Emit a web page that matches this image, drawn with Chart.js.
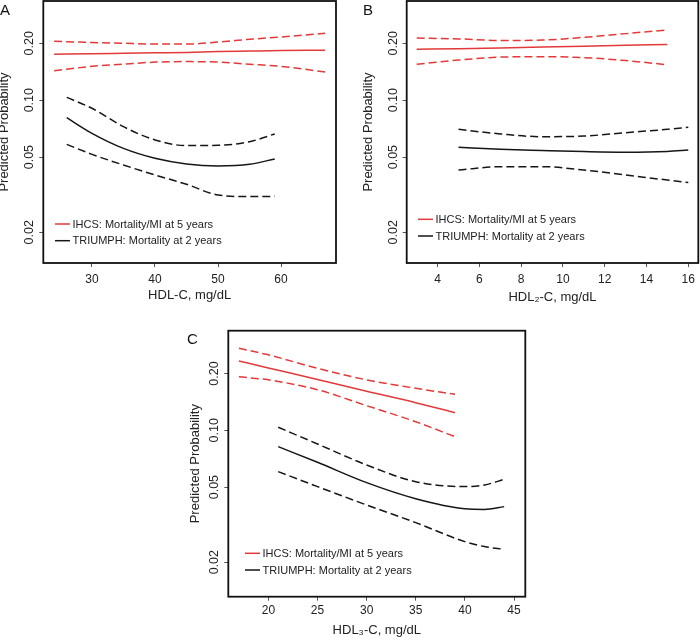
<!DOCTYPE html>
<html>
<head>
<meta charset="utf-8">
<script src="https://cdn.jsdelivr.net/npm/chart.js@4.4.1/dist/chart.umd.min.js"></script>
<style>
  body { margin: 0; background: #fff; }
  #wrap { position: relative; width: 700px; height: 638px; font-family: "Liberation Sans", Arial, sans-serif; }
  canvas { position: absolute; }
  .tag { position: absolute; font-size: 15px; line-height: 1; color: #111; }
</style>
</head>
<body>
<div id="wrap">
  <canvas id="chartA" width="350" height="320" style="left:0;top:0"></canvas>
  <canvas id="chartB" width="350" height="320" style="left:350px;top:0"></canvas>
  <canvas id="chartC" width="360" height="318" style="left:180px;top:320px"></canvas>
  <div class="tag" style="left:0px;top:2px">A</div>
  <div class="tag" style="left:363px;top:2px">B</div>
  <div class="tag" style="left:187px;top:331px">C</div>
</div>
<script>
// labels
const ihcsLabel = 'IHCS: Mortality/MI at 5 years';
const triumphLabel = 'TRIUMPH: Mortality at 2 years';
const yTitle = 'Predicted Probability';
const yTicks = [0.02, 0.05, 0.10, 0.20];

// Panel A - HDL-C
const xTicksA = [30, 40, 50, 60];
const ihcsXA = [24, 30, 35, 40, 45, 50, 55, 60, 67];
const ihcsFitA = [0.175, 0.176, 0.177, 0.178, 0.179, 0.181, 0.182, 0.183, 0.184];
const ihcsUpA = [0.205, 0.202, 0.200, 0.198, 0.198, 0.203, 0.210, 0.216, 0.226];
const ihcsLoA = [0.143, 0.151, 0.155, 0.159, 0.160, 0.159, 0.155, 0.151, 0.141];
const triumphXA = [26, 30, 35, 40, 45, 50, 55, 59];
const triumphFitA = [0.0808, 0.0668, 0.0556, 0.0493, 0.0460, 0.0449, 0.0458, 0.0489];
const triumphUpA = [0.1035, 0.0906, 0.0724, 0.0616, 0.0575, 0.0577, 0.0603, 0.0663];
const triumphLoA = [0.0584, 0.0517, 0.0454, 0.0402, 0.0359, 0.0315, 0.0309, 0.0310];

// Panel B - HDL2-C
const xTicksB = [4, 6, 8, 10, 12, 14, 16];
const ihcsXB = [3, 5, 7, 9, 11, 13, 15];
const ihcsFitB = [0.186, 0.187, 0.189, 0.191, 0.193, 0.195, 0.197];
const ihcsUpB = [0.213, 0.211, 0.207, 0.208, 0.215, 0.225, 0.235];
const ihcsLoB = [0.155, 0.163, 0.169, 0.170, 0.168, 0.162, 0.154];
const triumphXB = [5, 7, 9, 11, 13, 15, 16];
const triumphFitB = [0.0563, 0.0550, 0.0542, 0.0535, 0.0531, 0.0536, 0.0545];
const triumphUpB = [0.0701, 0.0663, 0.0641, 0.0646, 0.0673, 0.0701, 0.0719];
const triumphLoB = [0.0427, 0.0445, 0.0445, 0.0427, 0.0402, 0.0378, 0.0367];

// Panel C - HDL3-C
const xTicksC = [20, 25, 30, 35, 40, 45];
const ihcsXC = [17, 20, 25, 30, 35, 39];
const ihcsFitC = [0.233, 0.214, 0.186, 0.161, 0.140, 0.124];
const ihcsUpC = [0.272, 0.251, 0.213, 0.185, 0.167, 0.155];
const ihcsLoC = [0.192, 0.185, 0.164, 0.135, 0.111, 0.0925];
const triumphXC = [21, 25, 30, 35, 40, 42, 44];
const triumphFitC = [0.0819, 0.0677, 0.0528, 0.0434, 0.0384, 0.0381, 0.0394];
const triumphUpC = [0.1037, 0.0846, 0.0655, 0.0534, 0.0503, 0.0513, 0.0550];
const triumphLoC = [0.0604, 0.0503, 0.0402, 0.0324, 0.0257, 0.0242, 0.0234];

const RED = '#e23a3a';
const BLACK = '#161616';
const FONT = '"Liberation Sans", Arial, sans-serif';

function pts(xs, ys) {
  return xs.map((x, i) => ({ x: x, y: ys[i] }));
}

function line(label, xs, ys, color, dashed, inLegend) {
  return {
    label: label,
    data: pts(xs, ys),
    borderColor: color,
    borderWidth: 1.5,
    borderDash: dashed ? [8, 4] : [],
    pointRadius: 0,
    fill: false,
    cubicInterpolationMode: 'monotone',
    inLegend: inLegend
  };
}

// box round the plot, rotated y tick labels (like R) and the legend inside the plot
const panelDecor = {
  id: 'panelDecor',
  afterDraw(chart, args, opts) {
    const ctx = chart.ctx;
    const a = chart.chartArea;
    ctx.save();
    ctx.strokeStyle = '#111';
    ctx.lineWidth = 1.8;
    ctx.setLineDash([]);
    ctx.strokeRect(a.left, a.top, a.right - a.left, a.bottom - a.top);

    const ys = chart.scales.y;
    ctx.fillStyle = '#222';
    ctx.font = '12.5px ' + FONT;
    ctx.textAlign = 'center';
    ctx.textBaseline = 'middle';
    ys.ticks.forEach(t => {
      ctx.save();
      ctx.translate(a.left - opts.yLabelGap, ys.getPixelForValue(t.value));
      ctx.rotate(-Math.PI / 2);
      ctx.fillText(t.value.toFixed(2), 0, 0);
      ctx.restore();
    });

    ctx.font = '11px ' + FONT;
    ctx.textAlign = 'left';
    const items = chart.data.datasets.filter(d => d.inLegend);
    items.forEach((d, i) => {
      const y = a.bottom - opts.legendBottom + i * opts.legendRow;
      const x = a.left + opts.legendLeft;
      ctx.strokeStyle = d.borderColor;
      ctx.lineWidth = 1.5;
      ctx.beginPath();
      ctx.moveTo(x, y);
      ctx.lineTo(x + 15, y);
      ctx.stroke();
      ctx.fillStyle = '#222';
      ctx.fillText(d.label, x + 17.5, y + 0.5);
    });
    ctx.restore();
  }
};

function makePanel(id, p) {
  const ctx = document.getElementById(id);
  return new Chart(ctx, {
    type: 'line',
    data: {
      datasets: [
        line(ihcsLabel, p.ihcsX, p.ihcsFit, RED, false, true),
        line('IHCS upper', p.ihcsX, p.ihcsUp, RED, true, false),
        line('IHCS lower', p.ihcsX, p.ihcsLo, RED, true, false),
        line(triumphLabel, p.triumphX, p.triumphFit, BLACK, false, true),
        line('TRIUMPH upper', p.triumphX, p.triumphUp, BLACK, true, false),
        line('TRIUMPH lower', p.triumphX, p.triumphLo, BLACK, true, false)
      ]
    },
    options: {
      responsive: false,
      animation: false,
      events: [],
      layout: { padding: p.pad },
      scales: {
        x: {
          type: 'linear',
          min: p.xMin,
          max: p.xMax,
          afterBuildTicks: s => { s.ticks = p.xTicks.map(v => ({ value: v })); },
          afterFit: s => { s.height = p.xAxisH; },
          grid: { drawOnChartArea: false, drawTicks: true, tickLength: 4, color: '#555' },
          border: { display: false },
          ticks: { autoSkip: false, maxRotation: 0, padding: p.xTickPad, color: '#222',
                   font: { family: FONT, size: 12 }, callback: v => String(v) },
          title: { display: true, text: p.xTitle, color: '#222',
                   font: { family: FONT, size: 13 }, padding: { top: 0, bottom: 0 } }
        },
        y: {
          type: 'logarithmic',
          min: p.yMin,
          max: p.yMax,
          afterBuildTicks: s => { s.ticks = yTicks.map(v => ({ value: v })); },
          afterFit: s => { s.width = p.yAxisW; },
          grid: { drawOnChartArea: false, drawTicks: true, tickLength: 4, color: '#555' },
          border: { display: false },
          ticks: { display: false },
          title: { display: true, text: yTitle, color: '#222',
                   font: { family: FONT, size: 13 }, padding: { top: p.yTitlePad, bottom: 0 } }
        }
      },
      plugins: {
        legend: { display: false },
        tooltip: { enabled: false },
        panelDecor: p.decor
      }
    },
    plugins: [panelDecor]
  });
}

makePanel('chartA', {
  ihcsX: ihcsXA, ihcsFit: ihcsFitA, ihcsUp: ihcsUpA, ihcsLo: ihcsLoA,
  triumphX: triumphXA, triumphFit: triumphFitA, triumphUp: triumphUpA, triumphLo: triumphLoA,
  xTicks: xTicksA, xMin: 22.28, xMax: 68.72, yMin: 0.01376, yMax: 0.3348,
  xTitle: 'HDL-C, mg/dL',
  pad: { left: 0, top: 1, right: 14, bottom: 17.2 },
  xAxisH: 39.8, yAxisW: 43.3, xTickPad: 5, yTitlePad: -2.9,
  decor: { yLabelGap: 13.5, legendBottom: 39, legendRow: 16.7, legendLeft: 11.7 }
});

makePanel('chartB', {
  ihcsX: ihcsXB, ihcsFit: ihcsFitB, ihcsUp: ihcsUpB, ihcsLo: ihcsLoB,
  triumphX: triumphXB, triumphFit: triumphFitB, triumphUp: triumphUpB, triumphLo: triumphLoB,
  xTicks: xTicksB, xMin: 2.52, xMax: 16.48, yMin: 0.01376, yMax: 0.3348,
  xTitle: 'HDL\u2082-C, mg/dL',
  pad: { left: 0, top: 1, right: 1.3, bottom: 15.2 },
  xAxisH: 41.8, yAxisW: 56.7, xTickPad: 5, yTitlePad: 10.5,
  decor: { yLabelGap: 13.5, legendBottom: 43.7, legendRow: 16.7, legendLeft: 11.3 }
});

makePanel('chartC', {
  ihcsX: ihcsXC, ihcsFit: ihcsFitC, ihcsUp: ihcsUpC, ihcsLo: ihcsLoC,
  triumphX: triumphXC, triumphFit: triumphFitC, triumphUp: triumphUpC, triumphLo: triumphLoC,
  xTicks: xTicksC, xMin: 15.92, xMax: 46.15, yMin: 0.01313, yMax: 0.337,
  xTitle: 'HDL\u2083-C, mg/dL',
  pad: { left: 0, top: 10.7, right: 14.7, bottom: 0.2 },
  xAxisH: 41.1, yAxisW: 48.3, xTickPad: 3, yTitlePad: 7.2,
  decor: { yLabelGap: 14, legendBottom: 43.4, legendRow: 16.7, legendLeft: 16.7 }
});
</script>
</body>
</html>
